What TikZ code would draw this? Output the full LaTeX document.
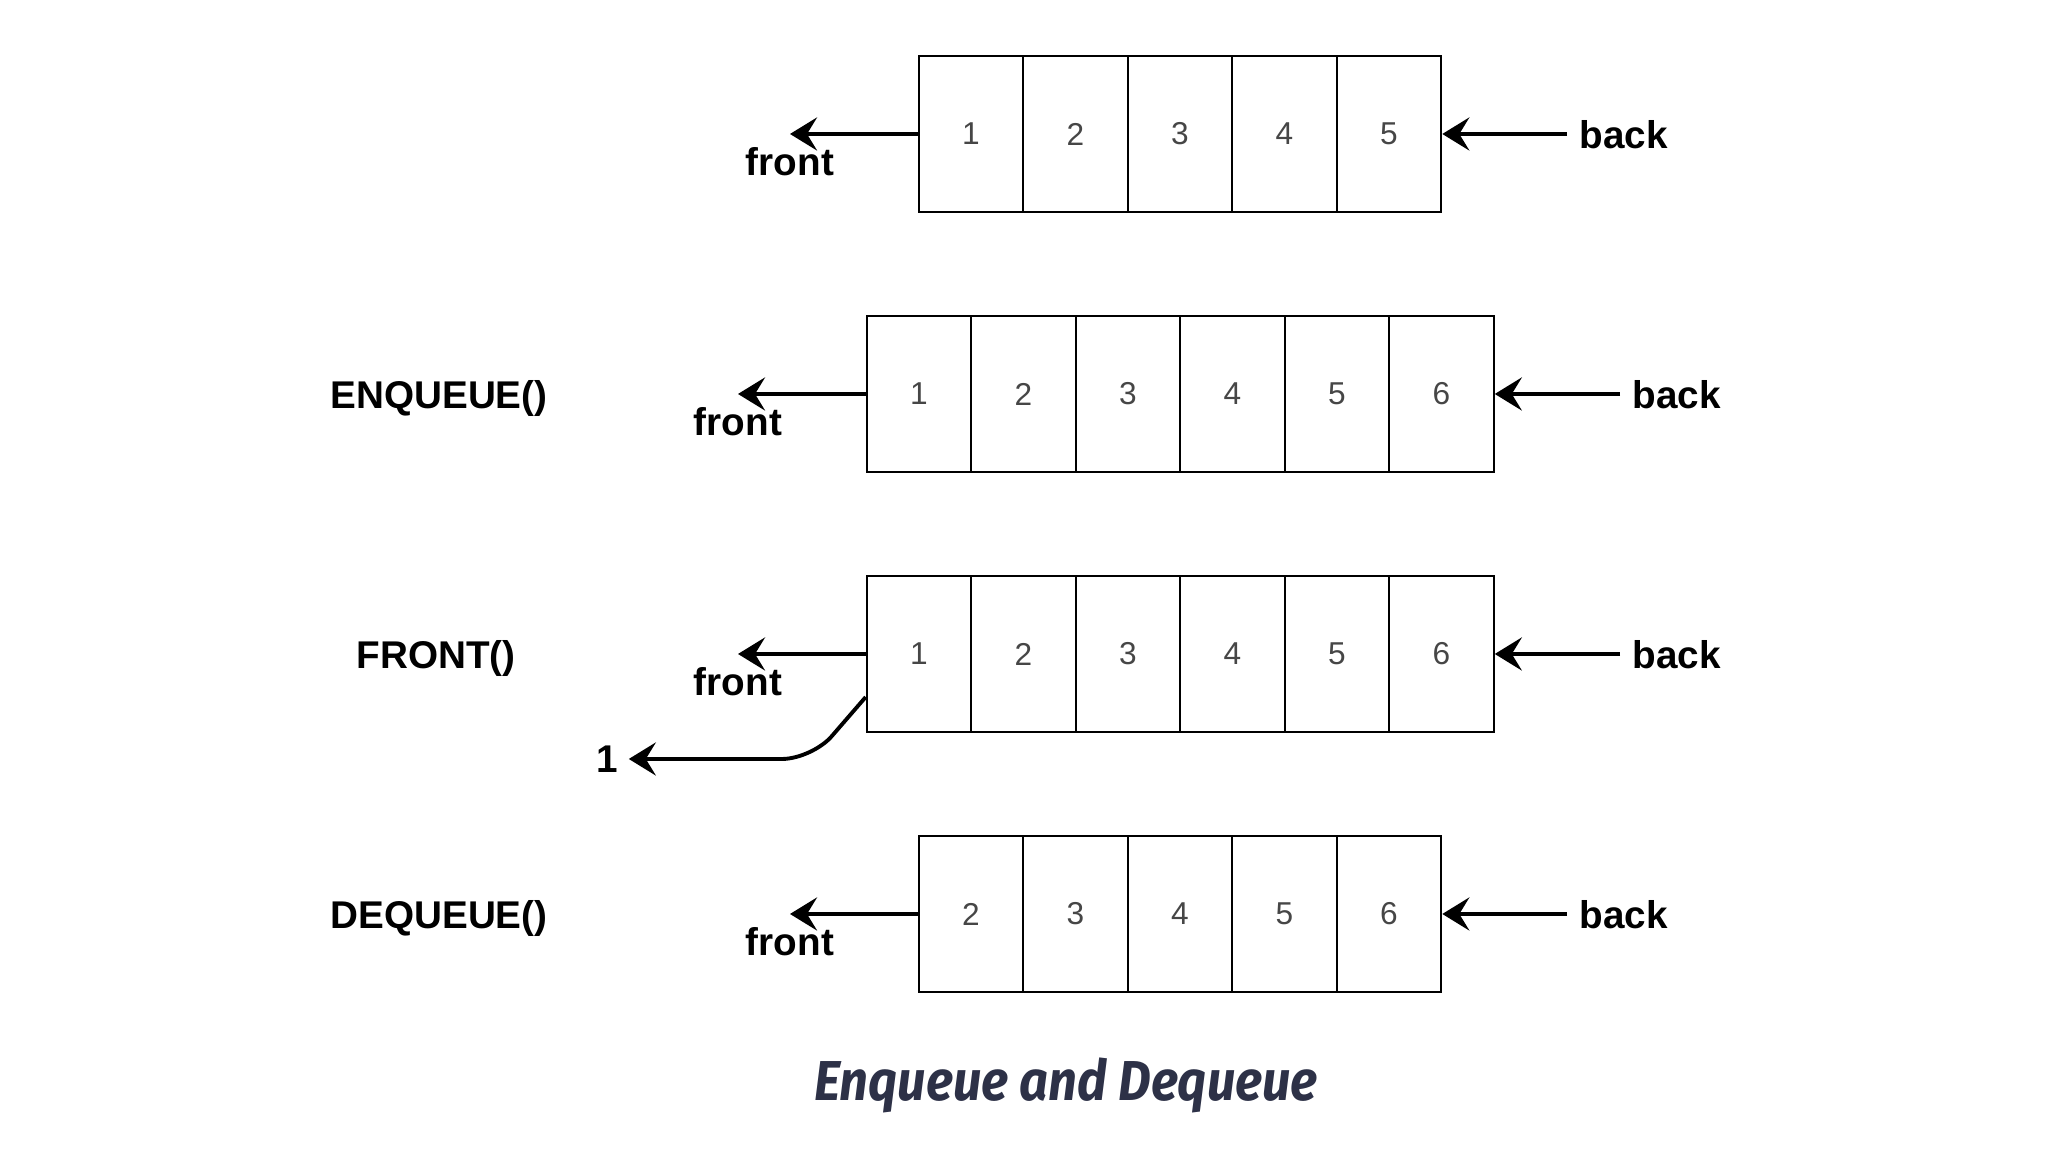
\documentclass[tikz,border=0pt]{standalone}
\usepackage{fontspec}
\setmainfont{Liberation Sans}
\newfontfamily\capfont{Fira Sans}[FakeStretch=0.9]
\usetikzlibrary{positioning, arrows.meta}
\tikzset{every picture/.style={line width=0.6pt}}
\definecolor{cap-navy}{RGB}{45,49,71}
\definecolor{num-grey}{RGB}{70,70,70}

\begin{document}
\begin{tikzpicture}
    [cell/.style = {rectangle, draw, inner sep=0pt,
            minimum height=1.56cm, minimum width=1.045cm,
            font=\fontsize{9}{11}\selectfont, text=num-grey},
    lbl/.style = {font=\fontsize{11}{13}\selectfont\bfseries},
    op/.style = {font=\fontsize{11}{13}\selectfont\bfseries},
    arr/.style = {-{Stealth[length=2.7mm, width=3.3mm, inset=1mm]}, line width=1.1pt},
    ]

\useasboundingbox (0,0) rectangle (20.48,11.52);

% operations
\node[op] (enq) at (4.39, 7.53) {ENQUEUE()};
\node[op] (fro) at (4.36, 4.93) {FRONT()};
\node[op] (deq) at (4.39, 2.33) {DEQUEUE()};

% queue
\node[cell] (a1) at (9.71, 10.18) {1};
\node[cell] (a2) at (10.755, 10.18) {2};
\node[cell] (a3) at (11.8, 10.18) {3};
\node[cell] (a4) at (12.845, 10.18) {4};
\node[cell] (a5) at (13.89, 10.18) {5};

% after enqueue
\node[cell] (b1) at (9.19, 7.58) {1};
\node[cell] (b2) at (10.235, 7.58) {2};
\node[cell] (b3) at (11.28, 7.58) {3};
\node[cell] (b4) at (12.325, 7.58) {4};
\node[cell] (b5) at (13.37, 7.58) {5};
\node[cell] (b6) at (14.415, 7.58) {6};

% front
\node[cell] (c1) at (9.19, 4.98) {1};
\node[cell] (c2) at (10.235, 4.98) {2};
\node[cell] (c3) at (11.28, 4.98) {3};
\node[cell] (c4) at (12.325, 4.98) {4};
\node[cell] (c5) at (13.37, 4.98) {5};
\node[cell] (c6) at (14.415, 4.98) {6};

% after dequeue
\node[cell] (d2) at (9.71, 2.38) {2};
\node[cell] (d3) at (10.755, 2.38) {3};
\node[cell] (d4) at (11.8, 2.38) {4};
\node[cell] (d5) at (12.845, 2.38) {5};
\node[cell] (d6) at (13.89, 2.38) {6};

% front / back labels
\node[lbl] (fronta) at (7.90, 9.90) {front};
\node[lbl] (frontb) at (7.38, 7.30) {front};
\node[lbl] (frontc) at (7.38, 4.70) {front};
\node[lbl] (frontd) at (7.90, 2.10) {front};
\node[lbl, anchor=west] (backa) at (15.67, 10.17) {back};
\node[lbl, anchor=west] (backb) at (16.20, 7.57) {back};
\node[lbl, anchor=west] (backc) at (16.20, 4.97) {back};
\node[lbl, anchor=west] (backd) at (15.67, 2.37) {back};

\draw[arr] (a1.west) -- (a1.west -| fronta);
\draw[arr] (b1.west) -- (b1.west -| frontb);
\draw[arr] (c1.west) -- (c1.west -| frontc);
\draw[arr] (d2.west) -- (d2.west -| frontd);
\draw[arr] (backa.west |- a5.east) -- (a5.east);
\draw[arr] (backb.west |- b6.east) -- (b6.east);
\draw[arr] (backc.west |- c6.east) -- (c6.east);
\draw[arr] (backd.west |- d6.east) -- (d6.east);

% returned value
\node[lbl, inner sep=1mm] (one) at (6.07, 3.93) {1};
\coordinate (bend) at (8.12, 3.93);
\draw[arr, rounded corners=3mm] ([yshift=3.6mm]c1.south west) -- (bend) -- (one.east);

\node[font=\capfont\fontsize{16}{19}\selectfont\bfseries\itshape, text=cap-navy] (title) at (10.66, 0.67) {Enqueue and Dequeue};

\end{tikzpicture}
\end{document}
